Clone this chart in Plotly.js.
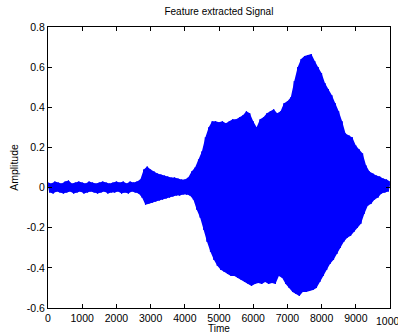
<!DOCTYPE html>
<html><head><meta charset="utf-8">
<script src="https://cdn.plot.ly/plotly-3.0.1.min.js"></script>
<style>html,body{margin:0;padding:0;background:#fff}#c{width:398px;height:334px}</style>
</head><body><div id="c"></div>
<script>
// Peaks read at t = 0,100,...,10000
var peaks = [0.025,0.02,0.03,0.025,0.02,0.03,0.035,0.02,0.025,0.03,
 0.025,0.02,0.03,0.025,0.02,0.025,0.03,0.025,0.02,0.025,
 0.03,0.025,0.03,0.02,0.03,0.025,0.03,0.04,0.09,0.105,
 0.09,0.08,0.07,0.065,0.06,0.055,0.05,0.05,0.045,0.04,
 0.04,0.05,0.08,0.1,0.14,0.18,0.25,0.3,0.33,0.33,
 0.325,0.33,0.32,0.33,0.34,0.34,0.35,0.36,0.38,0.37,
 0.33,0.3,0.34,0.35,0.37,0.38,0.39,0.37,0.38,0.42,
 0.43,0.45,0.53,0.6,0.64,0.655,0.66,0.665,0.63,0.6,
 0.57,0.52,0.49,0.46,0.42,0.38,0.33,0.27,0.26,0.25,
 0.21,0.19,0.17,0.11,0.08,0.07,0.06,0.055,0.045,0.04,
 0.03];
// Troughs read at t = 50,150,...,9950
var troughs = [-0.025,-0.03,-0.02,-0.025,-0.03,-0.025,-0.02,-0.03,-0.025,-0.02,
 -0.03,-0.025,-0.02,-0.025,-0.03,-0.025,-0.02,-0.03,-0.025,-0.025,
 -0.02,-0.03,-0.025,-0.03,-0.02,-0.025,-0.03,-0.05,-0.085,-0.08,
 -0.075,-0.07,-0.065,-0.06,-0.055,-0.05,-0.045,-0.04,-0.04,-0.035,
 -0.035,-0.04,-0.06,-0.11,-0.15,-0.21,-0.27,-0.32,-0.36,-0.39,
 -0.41,-0.42,-0.43,-0.44,-0.44,-0.45,-0.46,-0.47,-0.48,-0.49,
 -0.48,-0.475,-0.48,-0.47,-0.48,-0.475,-0.48,-0.44,-0.45,-0.48,
 -0.5,-0.52,-0.53,-0.54,-0.52,-0.52,-0.515,-0.51,-0.5,-0.47,
 -0.44,-0.41,-0.38,-0.36,-0.33,-0.3,-0.27,-0.25,-0.24,-0.22,
 -0.2,-0.18,-0.13,-0.09,-0.08,-0.06,-0.05,-0.03,-0.025,-0.02];
var xTickVals = [0,1000,2000,3000,4000,5000,6000,7000,8000,9000];
var xTickText = ['0','1000','2000','3000','4000','5000','6000','7000','8000','9000'];
var xLastTick = 10000, xLastText = '10000';
var yTickVals = [-0.6,-0.4,-0.2,0,0.2,0.4,0.6,0.8];
var yTickText = ['-0.6','-0.4','-0.2','0','0.2','0.4','0.6','0.8'];

var peakX = peaks.map(function (v, i) { return i * 100; });
var troughX = troughs.map(function (v, i) { return i * 100 + 50; });
var tx = [], ty = [];
for (var i = 0; i < peaks.length; i++) {
  tx.push(peakX[i]); ty.push(peaks[i]);
  if (i < troughs.length) { tx.push(troughX[i]); ty.push(troughs[i]); }
}

var blue = '#0000ff';
var font = {family: 'Liberation Sans, Arial, sans-serif', size: 10.5, color: '#000'};
var axBase = {
  showline: true, linecolor: '#000', linewidth: 1, mirror: 'ticks',
  ticks: 'inside', ticklen: 4, tickwidth: 1, tickcolor: '#000',
  showgrid: false, zeroline: false, tickmode: 'array', tickfont: font
};
var layout = {
  width: 398, height: 334,
  margin: {l: 48, r: 8, t: 27, b: 26},
  paper_bgcolor: '#fff', plot_bgcolor: '#fff',
  showlegend: false,
  font: font,
  title: {text: 'Feature extracted Signal', font: {family: font.family, size: 10, color: '#000'}, x: 0.55, xanchor: 'center', y: 0.965, yanchor: 'middle'},
  xaxis: Object.assign({}, axBase, {range: [0, 10000], tickvals: xTickVals.concat([xLastTick]), ticktext: xTickText.concat(['']),
    title: {text: 'Time', font: {family: font.family, size: 10, color: '#000'}, standoff: 8}}),
  yaxis: Object.assign({}, axBase, {range: [-0.6, 0.8], tickvals: yTickVals, ticktext: yTickText,
    title: {text: 'Amplitude', font: font, standoff: 6}}),
  annotations: [{x: xLastTick, xref: 'x', y: 0, yref: 'paper', yshift: -5, text: xLastText, showarrow: false,
    xanchor: 'center', yanchor: 'top', font: font}]
};
var traces = [
  {x: peakX, y: peaks, type: 'scatter', mode: 'lines', line: {width: 0, color: blue, simplify: false}, hoverinfo: 'skip'},
  {x: troughX, y: troughs, type: 'scatter', mode: 'lines', fill: 'tonexty', fillcolor: blue, line: {width: 0, color: blue, simplify: false}, hoverinfo: 'skip'},
  {x: tx, y: ty, type: 'scatter', mode: 'lines', line: {color: blue, width: 1, simplify: false}, hoverinfo: 'skip'}
];
Plotly.newPlot('c', traces, layout, {staticPlot: true, displayModeBar: false});
</script></body></html>
